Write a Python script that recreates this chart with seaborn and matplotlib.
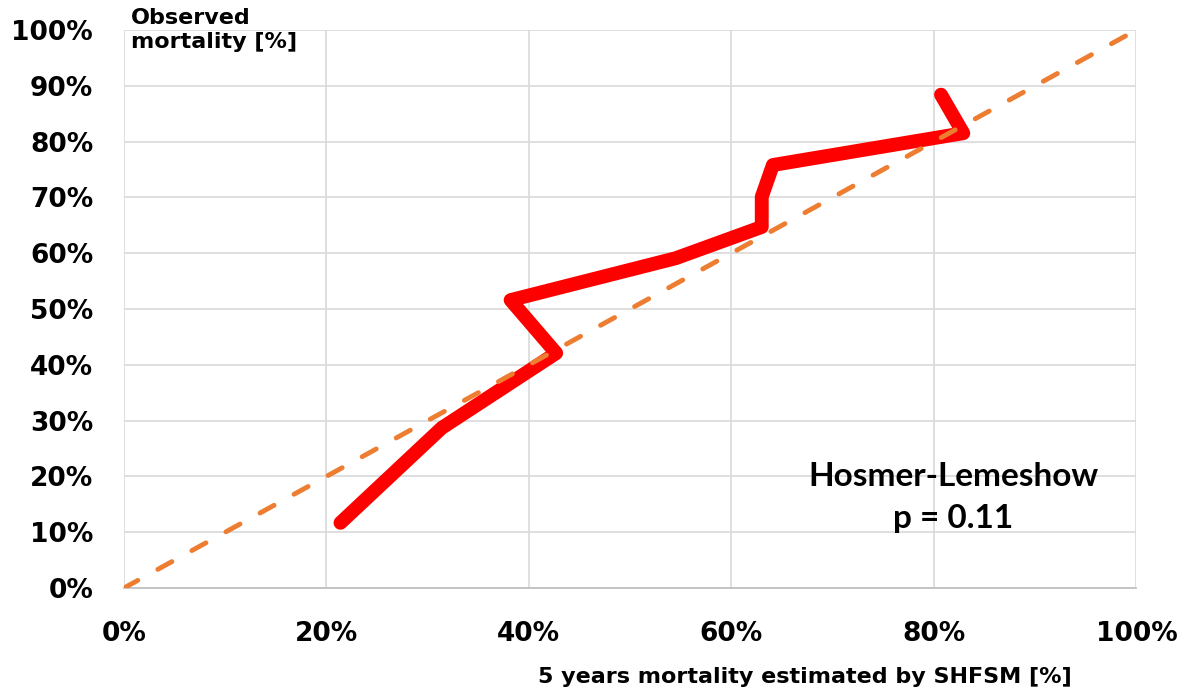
import matplotlib
matplotlib.use("Agg")
import matplotlib.pyplot as plt
import seaborn as sns
import pandas as pd
from matplotlib.ticker import PercentFormatter, MultipleLocator

# Calibration data (percent)
predicted = [21.4, 31.4, 42.7, 38.2, 54.5, 63.0, 63.0, 64.1, 82.9, 80.7]
observed = [11.7, 28.7, 42.1, 51.6, 59.1, 64.7, 70.1, 75.8, 81.5, 88.4]
ideal = [0, 100]

sns.set_theme(style="whitegrid")
plt.rcParams["font.family"] = ["DejaVu Sans"]
plt.rcParams["text.color"] = "black"

fig = plt.figure(figsize=(11.9, 6.96), dpi=100)
ax = fig.add_axes([0.104, 0.155, 0.851, 0.802])

df = pd.DataFrame({"pred": predicted, "obs": observed})
sns.lineplot(data=df, x="pred", y="obs", sort=False, estimator=None,
             color="#FF0000", linewidth=10, solid_capstyle="round",
             solid_joinstyle="round", ax=ax, zorder=3)
sns.lineplot(x=ideal, y=ideal, color="#ED7D31", linewidth=3.5,
             linestyle=(0, (3.3, 4.7)), dash_capstyle="round", ax=ax, zorder=4)

ax.set_xlim(0, 100)
ax.set_ylim(0, 100)
ax.xaxis.set_major_locator(MultipleLocator(20))
ax.yaxis.set_major_locator(MultipleLocator(10))
ax.xaxis.set_major_formatter(PercentFormatter(decimals=0))
ax.yaxis.set_major_formatter(PercentFormatter(decimals=0))
ax.grid(color="#d9d9d9", linewidth=1.2)
for s in ax.spines.values():
    s.set_visible(False)
ax.spines["bottom"].set_visible(True)
ax.spines["bottom"].set_color("#bfbfbf")

ax.tick_params(axis="both", labelsize=19, length=0, labelcolor="black")
ax.tick_params(axis="x", pad=24)
ax.tick_params(axis="y", pad=22)
for lab in ax.get_xticklabels() + ax.get_yticklabels():
    lab.set_fontweight("bold")

ax.set_xlabel("")
ax.set_ylabel("")
fig.text(0.676, 0.027, "5 years mortality estimated by SHFSM [%]",
         ha="center", va="center", fontsize=16, fontweight="bold")
fig.text(0.11, 0.988, "Observed\nmortality [%]", ha="left", va="top",
         fontsize=16, fontweight="bold", linespacing=1.25)

ax.text(81.9, 16.3, "Hosmer-Lemeshow\np = 0.11", ha="center", va="center",
        fontsize=24, fontweight="bold", linespacing=1.55, color="black",
        family=["Lato", "DejaVu Sans"])

fig.savefig("out.png", dpi=100)
